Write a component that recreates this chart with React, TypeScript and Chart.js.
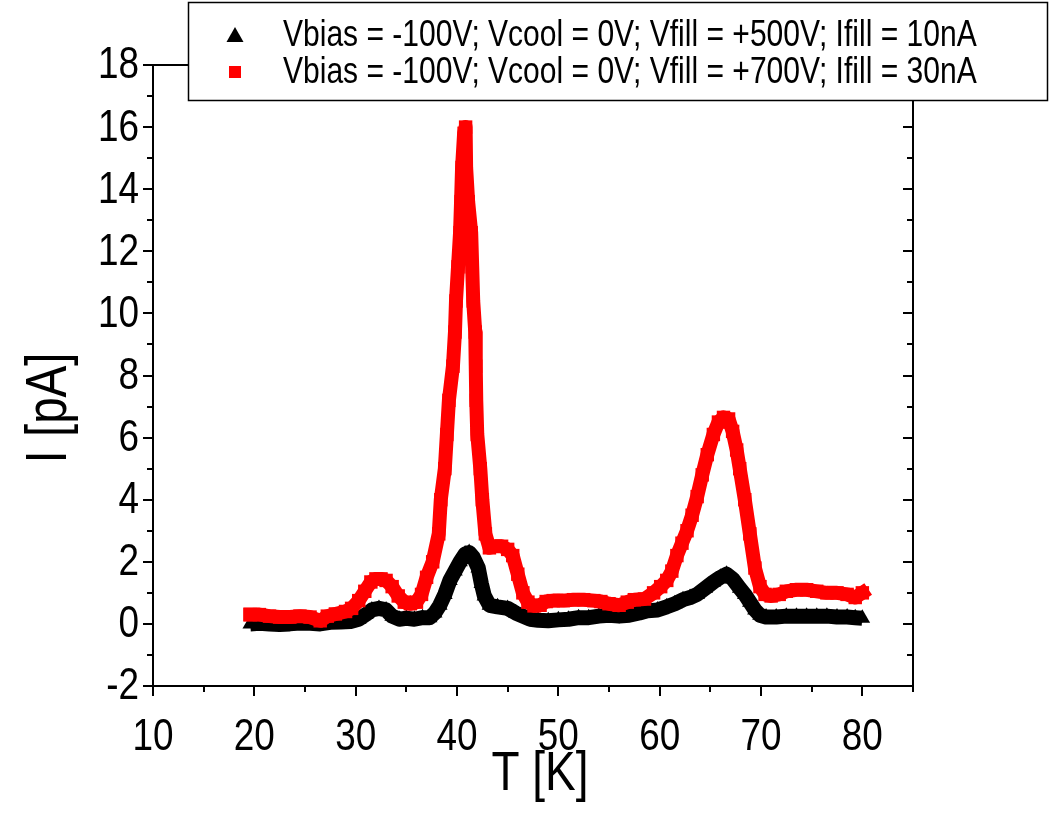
import React, { useEffect, useRef } from "react";
import { Chart, registerables } from "chart.js";

Chart.register(...registerables);

const FONT = '"Liberation Sans", Arial, sans-serif';
const NARROW = 0.82; // horizontal compression to mimic a narrow face

// Tick values
const xTickValues = [10, 20, 30, 40, 50, 60, 70, 80];
const yTickValues = [-2, 0, 2, 4, 6, 8, 10, 12, 14, 16, 18];

// Titles and legend
const xTitle = "T [K]";
const yTitle = "I [pA]";
const legendLabels = [
  "Vbias = -100V; Vcool = 0V; Vfill = +500V; Ifill = 10nA",
  "Vbias = -100V; Vcool = 0V; Vfill = +700V; Ifill = 30nA",
];

// Series 1 (black triangles): +500V, 10nA
const blackT = [
  19.6, 20.5, 21.5, 22.5, 23.5, 24.5, 25.5, 26.5, 27.5, 28.5, 29.5, 30.3, 31.0, 31.6, 32.3, 33.0, 33.6,
  34.3, 35.0, 35.8, 36.6, 37.3, 37.8, 38.3, 38.8, 39.3, 39.8, 40.3, 40.8, 41.2, 41.6, 42.1, 42.4, 42.7,
  43.2, 44.0, 45.0, 45.8, 46.5, 47.2, 48.0, 49.0, 50.0, 51.0, 52.0, 53.0, 54.0, 55.0, 56.0, 57.0, 58.0,
  58.8, 59.8, 60.7, 61.5, 62.3, 63.0, 63.7, 64.5, 65.3, 66.0, 66.6, 67.2, 67.9, 68.4, 68.9, 69.4, 69.9,
  70.5, 71.5, 72.5, 73.5, 74.5, 75.5, 76.5, 77.5, 78.5, 79.3, 80.0,
];
const blackI = [
  0.0, 0.02, 0.0, -0.02, 0.0, 0.03, 0.02, 0.0, 0.05, 0.06, 0.08, 0.15, 0.3, 0.45, 0.5, 0.45, 0.25,
  0.15, 0.18, 0.15, 0.2, 0.2, 0.35, 0.6, 0.95, 1.4, 1.7, 2.0, 2.25, 2.3, 2.15, 1.8, 1.3, 0.9,
  0.6, 0.55, 0.5, 0.35, 0.25, 0.15, 0.12, 0.1, 0.13, 0.15, 0.2, 0.2, 0.25, 0.28, 0.25, 0.28, 0.35,
  0.42, 0.45, 0.55, 0.65, 0.78, 0.85, 0.95, 1.15, 1.35, 1.5, 1.6, 1.45, 1.15, 0.95, 0.7, 0.45, 0.28,
  0.22, 0.22, 0.25, 0.25, 0.25, 0.25, 0.25, 0.22, 0.22, 0.2, 0.18,
];

// Series 2 (red squares): +700V, 30nA
const redT = [
  19.6, 20.5, 21.5, 22.5, 23.5, 24.5, 25.5, 26.5, 27.2, 28.0, 29.0, 29.6, 30.3, 30.9, 31.5, 32.0, 32.5,
  33.0, 33.6, 34.2, 34.8, 35.4, 36.0, 36.5, 37.0, 37.6, 38.2, 38.4, 38.8, 39.0, 39.2, 39.6, 39.8, 39.9,
  40.1, 40.3, 40.4, 40.5, 40.7, 40.85, 40.9, 41.1, 41.4, 41.5, 41.6, 41.8, 41.85, 41.9, 42.0, 42.3, 42.5,
  42.8, 43.2, 43.8, 44.4, 45.0, 45.5, 46.0, 46.5, 47.0, 47.6, 48.2, 48.8, 49.5, 50.5, 51.5, 52.5, 53.5,
  54.2, 55.0, 56.0, 56.8, 57.5, 58.5, 59.4, 60.1, 60.7, 61.2, 61.7, 62.2, 62.7, 63.2, 63.7, 64.2, 64.7,
  65.3, 65.8, 66.3, 66.8, 67.2, 67.6, 67.9, 68.4, 68.9, 69.4, 69.9, 70.4, 71.0, 71.8, 72.5, 73.5, 74.5,
  75.5, 76.5, 77.5, 78.5, 79.3, 80.0,
];
const redI = [
  0.3, 0.3, 0.25, 0.22, 0.22, 0.25, 0.22, 0.1, 0.25, 0.32, 0.4, 0.5, 0.75, 1.05, 1.35, 1.45, 1.45,
  1.4, 1.2, 0.9, 0.7, 0.65, 0.7, 0.95, 1.5, 2.0, 2.9, 4.0, 5.0, 6.1, 7.2, 8.3, 9.4, 10.4,
  11.5, 12.6, 13.6, 14.7, 15.8, 16.0, 14.7, 13.6, 12.6, 11.5, 10.4, 9.4, 8.3, 7.2, 6.1, 5.0, 4.0,
  2.9, 2.45, 2.5, 2.5, 2.4, 2.2, 1.6, 1.0, 0.7, 0.58, 0.6, 0.72, 0.75, 0.75, 0.78, 0.78, 0.75,
  0.72, 0.65, 0.6, 0.7, 0.78, 0.8, 1.0, 1.2, 1.4, 1.7, 2.2, 2.6, 3.0, 3.5, 4.1, 4.8, 5.45,
  6.1, 6.5, 6.65, 6.6, 6.2, 5.6, 5.0, 4.0, 2.9, 1.8, 1.2, 0.95, 0.9, 0.95, 1.05, 1.1, 1.1,
  1.05, 1.0, 1.0, 0.95, 0.85, 1.0,
];

const X_MIN = 10, X_MAX = 85, Y_MIN = -2, Y_MAX = 18;

function narrowText(
  ctx: CanvasRenderingContext2D, text: string, x: number, y: number,
  size: number, align: "left" | "center" | "right", baseline: CanvasTextBaseline, rotate = 0,
) {
  ctx.save();
  ctx.translate(x, y);
  if (rotate) ctx.rotate(rotate);
  ctx.scale(NARROW, 1);
  ctx.font = `${size}px ${FONT}`;
  ctx.textAlign = align;
  ctx.textBaseline = baseline;
  ctx.fillStyle = "#000";
  ctx.fillText(text, 0, 0);
  ctx.restore();
}

const framePlugin = {
  id: "frameTicks",
  afterDraw(chart: any) {
    const { ctx, chartArea, scales } = chart;
    const xs = scales.x, ys = scales.y;
    const { left, right, top, bottom } = chartArea;
    ctx.save();
    ctx.strokeStyle = "#000";
    ctx.lineWidth = 2;
    ctx.beginPath();
    ctx.rect(left, top, right - left, bottom - top);
    ctx.stroke();
    const MAJ = 10, MIN = 6;
    ctx.beginPath();
    for (let v = Y_MIN; v <= Y_MAX; v += 1) {
      const y = Math.round(ys.getPixelForValue(v));
      const len = v % 2 === 0 ? MAJ : MIN;
      ctx.moveTo(left, y); ctx.lineTo(left - len, y);
      ctx.moveTo(right, y); ctx.lineTo(right - len, y);
    }
    for (let v = X_MIN; v <= X_MAX; v += 5) {
      const x = Math.round(xs.getPixelForValue(v));
      const len = v % 10 === 0 ? MAJ : MIN;
      ctx.moveTo(x, bottom); ctx.lineTo(x, bottom + len);
      ctx.moveTo(x, top); ctx.lineTo(x, top + len);
    }
    ctx.stroke();

    // Tick labels
    for (const v of yTickValues) {
      narrowText(ctx, String(v), left - 14, ys.getPixelForValue(v) + 1, 45, "right", "middle");
    }
    for (const v of xTickValues) {
      narrowText(ctx, String(v), xs.getPixelForValue(v), bottom + 64, 45, "center", "alphabetic");
    }

    // Axis titles
    narrowText(ctx, xTitle, (left + right) / 2 + 7, 790, 56, "center", "alphabetic");
    narrowText(ctx, yTitle, 50, 408, 58, "center", "middle", -Math.PI / 2);

    // Legend box
    const bx = 188, by = 2, bw = 859, bh = 98;
    ctx.fillStyle = "#fff";
    ctx.fillRect(bx, by, bw, bh);
    ctx.lineWidth = 1.5;
    ctx.strokeStyle = "#000";
    ctx.strokeRect(bx + 0.5, by + 0.5, bw, bh);
    ctx.font = `30px ${FONT}`;
    const w = ctx.measureText(legendLabels[0]).width * NARROW;
    const size = 30 * 694 / w;
    narrowText(ctx, legendLabels[0], 283, 36, size, "left", "middle");
    narrowText(ctx, legendLabels[1], 283, 73, size, "left", "middle");
    // symbols
    ctx.beginPath();
    ctx.moveTo(235, 27); ctx.lineTo(243.5, 42); ctx.lineTo(226.5, 42); ctx.closePath();
    ctx.fillStyle = "#000"; ctx.fill();
    ctx.fillStyle = "#ff0000";
    ctx.fillRect(229, 66, 12, 12);
    ctx.restore();
  },
};

export default function App() {
  const ref = useRef<HTMLCanvasElement>(null);
  useEffect(() => {
    document.body.style.margin = "0";
    const canvas = ref.current!;
    const chart = new Chart(canvas, {
      type: "scatter",
      data: {
        datasets: [
          {
            label: legendLabels[1],
            data: redT.map((t, i) => ({ x: t, y: redI[i] })),
            showLine: true,
            borderColor: "#ff0000",
            backgroundColor: "#ff0000",
            borderWidth: 14,
            borderJoinStyle: "round",
            borderCapStyle: "square",
            pointStyle: "rect",
            pointRadius: 9.5,
            pointBorderWidth: 0,
            order: 0,
          },
          {
            label: legendLabels[0],
            data: blackT.map((t, i) => ({ x: t, y: blackI[i] })),
            showLine: true,
            borderColor: "#000000",
            backgroundColor: "#000000",
            borderWidth: 15,
            borderJoinStyle: "round",
            pointStyle: "triangle",
            pointRadius: 9,
            pointBorderWidth: 0,
            order: 1,
          },
        ],
      },
      options: {
        responsive: false,
        animation: false,
        events: [],
        layout: { padding: { top: 65, right: 139, left: 0, bottom: 0 } },
        plugins: { legend: { display: false }, tooltip: { enabled: false }, title: { display: false } },
        scales: {
          x: {
            type: "linear",
            min: X_MIN,
            max: X_MAX,
            afterFit: (s: any) => { s.height = 822 - 686; },
            afterBuildTicks: (s: any) => { s.ticks = xTickValues.map((v) => ({ value: v })); },
            grid: { display: false, drawTicks: false },
            border: { display: false },
            ticks: { display: false },
          },
          y: {
            type: "linear",
            min: Y_MIN,
            max: Y_MAX,
            afterFit: (s: any) => { s.width = 153; },
            afterBuildTicks: (s: any) => { s.ticks = yTickValues.map((v) => ({ value: v })); },
            grid: { display: false, drawTicks: false },
            border: { display: false },
            ticks: { display: false },
          },
        },
      },
      plugins: [framePlugin],
    });
    return () => chart.destroy();
  }, []);
  return (
    <div style={{ width: 1052, height: 822, background: "#fff" }}>
      <canvas ref={ref} width={1052} height={822} style={{ display: "block" }} />
    </div>
  );
}
